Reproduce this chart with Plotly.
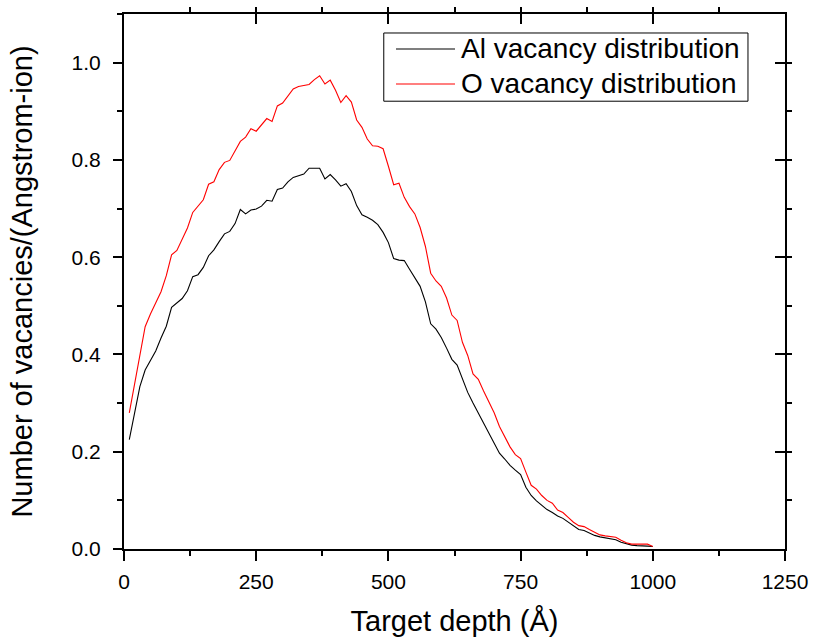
import plotly.graph_objects as go

# Target depth (Angstrom), sampled every 10 A
depth = list(range(10, 1001, 10))

# Al vacancies per (Angstrom-ion)
al_vac = [
    0.225, 0.279, 0.334, 0.368, 0.388, 0.407, 0.434, 0.458, 0.497, 0.506,
    0.515, 0.531, 0.560, 0.564, 0.579, 0.603, 0.615, 0.632, 0.648, 0.653,
    0.669, 0.698, 0.689, 0.697, 0.699, 0.705, 0.717, 0.715, 0.739, 0.742,
    0.755, 0.764, 0.768, 0.771, 0.783, 0.783, 0.783, 0.761, 0.770, 0.759,
    0.746, 0.751, 0.735, 0.706, 0.687, 0.682, 0.676, 0.667, 0.651, 0.630,
    0.597, 0.594, 0.593, 0.575, 0.557, 0.540, 0.508, 0.463, 0.452, 0.435,
    0.413, 0.390, 0.378, 0.350, 0.322, 0.300, 0.280, 0.258, 0.238, 0.217,
    0.197, 0.185, 0.172, 0.162, 0.153, 0.127, 0.110, 0.099, 0.090, 0.081,
    0.075, 0.068, 0.063, 0.055, 0.048, 0.040, 0.038, 0.033, 0.028, 0.025,
    0.023, 0.021, 0.019, 0.014, 0.011, 0.008, 0.007, 0.007, 0.006, 0.005,
]

# O vacancies per (Angstrom-ion)
o_vac = [
    0.280, 0.341, 0.403, 0.457, 0.483, 0.505, 0.529, 0.562, 0.605, 0.614,
    0.637, 0.660, 0.692, 0.706, 0.718, 0.750, 0.755, 0.780, 0.795, 0.799,
    0.819, 0.838, 0.847, 0.864, 0.859, 0.873, 0.885, 0.879, 0.911, 0.917,
    0.932, 0.946, 0.951, 0.953, 0.955, 0.965, 0.973, 0.956, 0.964, 0.943,
    0.918, 0.932, 0.919, 0.882, 0.867, 0.843, 0.829, 0.828, 0.823, 0.787,
    0.749, 0.752, 0.723, 0.704, 0.689, 0.661, 0.622, 0.567, 0.551, 0.540,
    0.516, 0.481, 0.470, 0.425, 0.398, 0.360, 0.349, 0.325, 0.302, 0.280,
    0.252, 0.232, 0.210, 0.194, 0.186, 0.158, 0.131, 0.123, 0.110, 0.100,
    0.094, 0.080, 0.075, 0.065, 0.055, 0.048, 0.046, 0.040, 0.034, 0.029,
    0.027, 0.025, 0.024, 0.018, 0.013, 0.010, 0.010, 0.010, 0.010, 0.005,
]

series_names = ["Al vacancy distribution", "O vacancy distribution"]
series_colors = ["#000000", "#ff0000"]

x_ticks = [0, 250, 500, 750, 1000, 1250]
y_ticks = [0.0, 0.2, 0.4, 0.6, 0.8, 1.0]
x_range = [0, 1250]
y_range = [0, 1.1]

FONT = "Liberation Sans, Arial, sans-serif"

fig = go.Figure()
for vals, name, color in zip([al_vac, o_vac], series_names, series_colors):
    fig.add_trace(go.Scatter(x=depth, y=vals, mode="lines", name=name,
                             line=dict(color=color, width=1.1), showlegend=False))

# invisible trace so the mirrored top/right axes are drawn
fig.add_trace(go.Scatter(x=[x_range[0]], y=[y_range[0]], xaxis="x2", yaxis="y2",
                         mode="markers", marker=dict(opacity=0), showlegend=False,
                         hoverinfo="skip"))

# boxed legend in the upper right of the plot area (paper coordinates)
box_x0, box_x1, box_y0, box_y1 = 0.393, 0.944, 0.837, 0.9645
row_y = [0.9346, 0.8692]
shapes = [dict(type="rect", xref="paper", yref="paper",
               x0=box_x0, x1=box_x1, y0=box_y0, y1=box_y1,
               line=dict(color="black", width=1), fillcolor="white", layer="above")]
annotations = []
for ry, name, color in zip(row_y, series_names, series_colors):
    shapes.append(dict(type="line", xref="paper", yref="paper",
                       x0=0.4115, x1=0.5008, y0=ry, y1=ry,
                       line=dict(color=color, width=1.1), layer="above"))
    annotations.append(dict(xref="paper", yref="paper", x=0.5065, y=ry,
                            xanchor="left", yanchor="middle", showarrow=False,
                            text=name, font=dict(size=28, family=FONT, color="black")))

fig.update_layout(
    width=813, height=637,
    margin=dict(l=124, r=28, t=14, b=88),
    paper_bgcolor="white", plot_bgcolor="white",
    font=dict(family=FONT, color="black"),
    showlegend=False,
    shapes=shapes, annotations=annotations,
    xaxis=dict(range=x_range, tickvals=x_ticks, showgrid=False, zeroline=False,
               showline=True, linewidth=2, linecolor="black",
               ticks="outside", ticklen=10, tickwidth=2, tickcolor="black",
               minor=dict(ticks="outside", ticklen=5, tickwidth=2,
                          tickcolor="black", dtick=125),
               tickfont=dict(size=21), ticklabelstandoff=3, automargin=False,
               title=dict(text="Target depth (Å)", font=dict(size=29), standoff=20)),
    yaxis=dict(range=y_range, tickvals=y_ticks, tickformat=".1f", showgrid=False,
               zeroline=False, showline=True, linewidth=2, linecolor="black",
               ticks="outside", ticklen=9, tickwidth=2, tickcolor="black",
               minor=dict(ticks="outside", ticklen=5, tickwidth=2,
                          tickcolor="black", dtick=0.1),
               tickfont=dict(size=21), ticklabelstandoff=8, automargin=False,
               title=dict(text="Number of vacancies/(Angstrom-ion)",
                          font=dict(size=29), standoff=30)),
    xaxis2=dict(range=x_range, tickvals=x_ticks, overlaying="x", side="top",
                anchor="y2", showgrid=False, zeroline=False, showticklabels=False,
                showline=True, linewidth=2, linecolor="black",
                ticks="inside", ticklen=10, tickwidth=2, tickcolor="black",
                minor=dict(ticks="outside", ticklen=5, tickwidth=2,
                           tickcolor="black", dtick=125)),
    yaxis2=dict(range=y_range, tickvals=y_ticks, overlaying="y", side="right",
                anchor="x2", showgrid=False, zeroline=False, showticklabels=False,
                showline=True, linewidth=2, linecolor="black",
                ticks="inside", ticklen=10, tickwidth=2, tickcolor="black",
                minor=dict(ticks="outside", ticklen=5, tickwidth=2,
                           tickcolor="black", dtick=0.1)),
)

fig.write_html("out.html")
